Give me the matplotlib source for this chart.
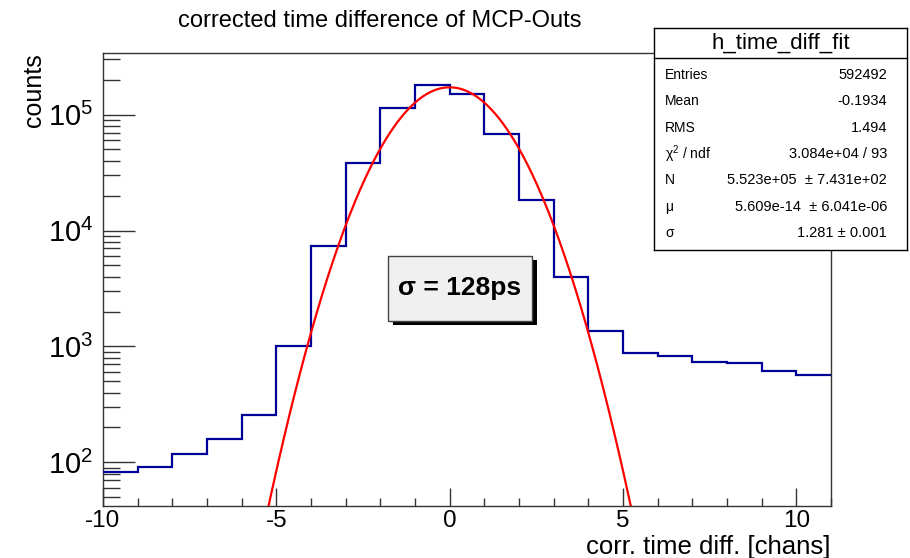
import numpy as np
import matplotlib.pyplot as plt
from matplotlib.patches import Rectangle
from matplotlib.ticker import FixedLocator, LogLocator, NullFormatter

plt.rcParams['font.family'] = ['Liberation Sans', 'DejaVu Sans']
plt.rcParams['axes.unicode_minus'] = False
plt.rcParams['mathtext.fontset'] = 'custom'
plt.rcParams['mathtext.rm'] = 'Liberation Sans'
plt.rcParams['mathtext.it'] = 'Liberation Sans:italic'

# histogram contents, bins of width 1 from -10 to 11
bin_edges = np.arange(-10, 12)
counts = [83, 92, 119, 158, 254, 1000, 7280, 37900, 113000, 181000,
          152000, 68500, 18200, 4010, 1350, 870, 820, 730, 713, 608, 562]

# fit results from the stats box
fit_N = 5.523e5
fit_mu = 5.609e-14
fit_sigma = 1.281

stats_labels = ['Entries', 'Mean', 'RMS', '\u03c7$^{2}$ / ndf', 'N', '\u03bc', '\u03c3']
stats_values = ['592492', '-0.1934', '1.494', '3.084e+04 / 93',
                '5.523e+05  \u00b1 7.431e+02', '5.609e-14  \u00b1 6.041e-06',
                '1.281 \u00b1 0.001']

W, H = 910, 558
fig = plt.figure(figsize=(W / 100, H / 100), dpi=100)

def fx(px):
    return px / W

def fy(py):
    return 1 - py / H

ax = fig.add_axes([fx(103), fy(506), fx(831) - fx(103), fy(53) - fy(506)])

ax.stairs(counts, bin_edges, color='#000099', lw=1.6, baseline=None, zorder=3)

xf = np.linspace(-10, 11, 400)
yf = fit_N / (np.sqrt(2 * np.pi) * fit_sigma) * np.exp(-0.5 * ((xf - fit_mu) / fit_sigma) ** 2)
ax.plot(xf, yf, color='red', lw=1.6, zorder=4)

ax.set_yscale('log')
ax.set_xlim(-10, 11)
ax.set_ylim(42, 3.4e5)

ax.xaxis.set_major_locator(FixedLocator([-10, -5, 0, 5, 10]))
ax.xaxis.set_minor_locator(FixedLocator(list(range(-10, 12))))
ax.yaxis.set_major_locator(FixedLocator([1e2, 1e3, 1e4, 1e5]))
ax.yaxis.set_minor_locator(LogLocator(base=10, subs=np.arange(2, 10)))
ax.yaxis.set_minor_formatter(NullFormatter())
ax.set_yticklabels([r'$\mathregular{10^{%d}}$' % k for k in [2, 3, 4, 5]])

ax.tick_params(axis='x', which='major', direction='in', length=13, width=1,
               color='#333333', labelsize=17.5, pad=3)
ax.tick_params(axis='x', which='minor', direction='in', length=6, width=1, color='#333333')
ax.tick_params(axis='y', which='major', direction='in', length=23, width=1,
               color='#333333', labelsize=21, pad=7)
ax.tick_params(axis='y', which='minor', direction='in', length=12, width=1, color='#333333')
for s in ax.spines.values():
    s.set_color('#333333')
    s.set_linewidth(1)

fig.text(fx(830), fy(554), 'corr. time diff. [chans]', fontsize=18.5, ha='right', va='baseline')
fig.text(fx(46), fy(53), 'counts', fontsize=18, rotation=90, ha='right', va='top')

fig.text(fx(380), fy(21), 'corrected time difference of MCP-Outs', fontsize=17,
         ha='center', va='center')

# sigma label with shadow
bx0, by0, bx1, by1 = 388, 256, 532, 321
fig.patches.append(Rectangle((fx(bx0 + 5), fy(by1 + 4)), fx(bx1) - fx(bx0), fy(by0) - fy(by1),
                             transform=fig.transFigure, facecolor='black', edgecolor='none', zorder=5))
fig.patches.append(Rectangle((fx(bx0), fy(by1)), fx(bx1) - fx(bx0), fy(by0) - fy(by1),
                             transform=fig.transFigure, facecolor='#f0f0f0', edgecolor='#444444',
                             lw=1, zorder=6))
fig.text(fx((bx0 + bx1) / 2), fy((by0 + by1) / 2), '\u03c3 = 128ps', fontsize=19,
         fontweight='bold', ha='center', va='center', zorder=7)

# stats box
sx0, sy0, sx1, sy1 = 654, 28, 907, 250
sax = fig.add_axes([fx(sx0), fy(sy1), fx(sx1) - fx(sx0), fy(sy0) - fy(sy1)], zorder=10)
sax.set_xticks([])
sax.set_yticks([])
sax.set_facecolor('white')
for s in sax.spines.values():
    s.set_color('black')
    s.set_linewidth(1)
fig.lines.append(plt.Line2D([fx(sx0), fx(sx1)], [fy(58), fy(58)], transform=fig.transFigure,
                            color='black', lw=1, zorder=11))
fig.text(fx((sx0 + sx1) / 2), fy(43), 'h_time_diff_fit', fontsize=16, ha='center',
         va='center', zorder=12)
row_y = [75, 101, 128, 154, 180, 207, 233]
for lab, val, ry in zip(stats_labels, stats_values, row_y):
    fig.text(fx(665), fy(ry), lab, fontsize=10, ha='left', va='center', zorder=12)
    fig.text(fx(887), fy(ry), val, fontsize=10.5, ha='right', va='center', zorder=12)

fig.savefig('out.png', dpi=100)
